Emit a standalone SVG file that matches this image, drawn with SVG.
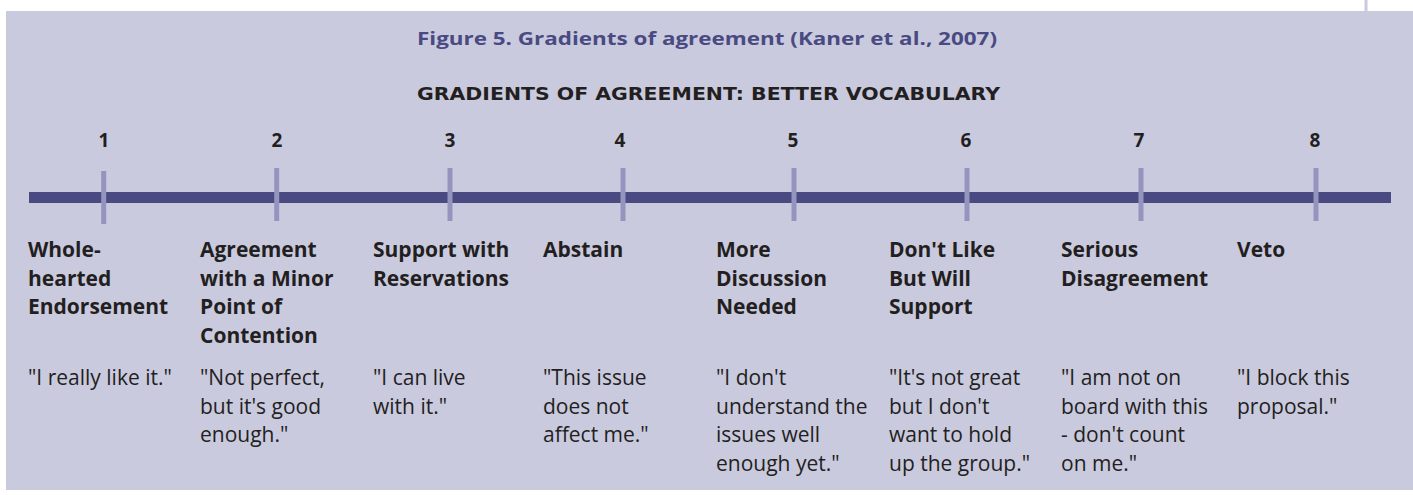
<svg xmlns="http://www.w3.org/2000/svg" width="1413" height="495" viewBox="0 0 1413 495">
<style>
.title{font-family:"Open Sans","Liberation Sans",sans-serif;font-weight:700;font-size:18px;fill:#4a4a82}
.sub{font-family:"DejaVu Sans","Liberation Sans",sans-serif;font-weight:700;font-size:17.5px;fill:#231f20}
.num{font-family:"Open Sans","Liberation Sans",sans-serif;font-weight:700;font-size:19px;fill:#231f20;text-anchor:middle}
.head{font-family:"Open Sans","Liberation Sans",sans-serif;font-weight:700;font-size:21px;fill:#231f20}
.quote{font-family:"Open Sans","Liberation Sans",sans-serif;font-weight:400;font-size:21px;fill:#231f20}
.tick{fill:#9494be}
</style>
<rect x="0" y="0" width="1413" height="495" fill="#ffffff"/>
<rect x="6" y="11" width="1407" height="479" fill="#cacadf"/>
<rect x="1364.5" y="0" width="3" height="11" fill="#cacadf"/>
<text class="title" x="417" y="45" textLength="580" lengthAdjust="spacingAndGlyphs">Figure 5. Gradients of agreement (Kaner et al., 2007)</text>
<text class="sub" x="417" y="100" textLength="583" lengthAdjust="spacingAndGlyphs">GRADIENTS OF AGREEMENT: BETTER VOCABULARY</text>
<g id="connectors">
<rect x="29" y="192" width="1362" height="11" fill="#4a4a82"/>
<rect class="tick" x="101.2" y="171" width="5" height="53"/>
<rect class="tick" x="274.2" y="168" width="5" height="53"/>
<rect class="tick" x="447.5" y="168" width="5" height="53"/>
<rect class="tick" x="620.5" y="168" width="5" height="53"/>
<rect class="tick" x="791.5" y="168" width="5" height="53"/>
<rect class="tick" x="964.5" y="168" width="5" height="53"/>
<rect class="tick" x="1138.5" y="168" width="5" height="53"/>
<rect class="tick" x="1313.5" y="168" width="5" height="53"/>
</g>
<g id="node1">
<text class="num" x="104" y="146.5">1</text>
<text class="head" x="28"><tspan x="28" y="257">Whole-</tspan><tspan x="28" y="285.5">hearted</tspan><tspan x="28" y="314">Endorsement</tspan></text>
<text class="quote" x="28"><tspan x="28" y="385">"I really like it."</tspan></text>
</g>
<g id="node2">
<text class="num" x="277" y="146.5">2</text>
<text class="head"><tspan x="200" y="257">Agreement</tspan><tspan x="200" y="285.5">with a Minor</tspan><tspan x="200" y="314">Point of</tspan><tspan x="200" y="342.5">Contention</tspan></text>
<text class="quote"><tspan x="200" y="385">"Not perfect,</tspan><tspan x="200" y="413.5">but it's good</tspan><tspan x="200" y="442">enough."</tspan></text>
</g>
<g id="node3">
<text class="num" x="450" y="146.5">3</text>
<text class="head"><tspan x="373" y="257">Support with</tspan><tspan x="373" y="285.5">Reservations</tspan></text>
<text class="quote"><tspan x="373" y="385">"I can live</tspan><tspan x="373" y="413.5">with it."</tspan></text>
</g>
<g id="node4">
<text class="num" x="620" y="146.5">4</text>
<text class="head"><tspan x="543" y="257">Abstain</tspan></text>
<text class="quote"><tspan x="543" y="385">"This issue</tspan><tspan x="543" y="413.5">does not</tspan><tspan x="543" y="442">affect me."</tspan></text>
</g>
<g id="node5">
<text class="num" x="793" y="146.5">5</text>
<text class="head"><tspan x="716" y="257">More</tspan><tspan x="716" y="285.5">Discussion</tspan><tspan x="716" y="314">Needed</tspan></text>
<text class="quote"><tspan x="716" y="385">"I don't</tspan><tspan x="716" y="413.5">understand the</tspan><tspan x="716" y="442">issues well</tspan><tspan x="716" y="470.5">enough yet."</tspan></text>
</g>
<g id="node6">
<text class="num" x="966" y="146.5">6</text>
<text class="head"><tspan x="889" y="257">Don't Like</tspan><tspan x="889" y="285.5">But Will</tspan><tspan x="889" y="314">Support</tspan></text>
<text class="quote"><tspan x="889" y="385">"It's not great</tspan><tspan x="889" y="413.5">but I don't</tspan><tspan x="889" y="442">want to hold</tspan><tspan x="889" y="470.5">up the group."</tspan></text>
</g>
<g id="node7">
<text class="num" x="1139" y="146.5">7</text>
<text class="head"><tspan x="1061" y="257">Serious</tspan><tspan x="1061" y="285.5">Disagreement</tspan></text>
<text class="quote"><tspan x="1061" y="385">"I am not on</tspan><tspan x="1061" y="413.5">board with this</tspan><tspan x="1061" y="442">- don't count</tspan><tspan x="1061" y="470.5">on me."</tspan></text>
</g>
<g id="node8">
<text class="num" x="1315" y="146.5">8</text>
<text class="head"><tspan x="1237" y="257">Veto</tspan></text>
<text class="quote"><tspan x="1237" y="385">"I block this</tspan><tspan x="1237" y="413.5">proposal."</tspan></text>
</g>
</svg>
